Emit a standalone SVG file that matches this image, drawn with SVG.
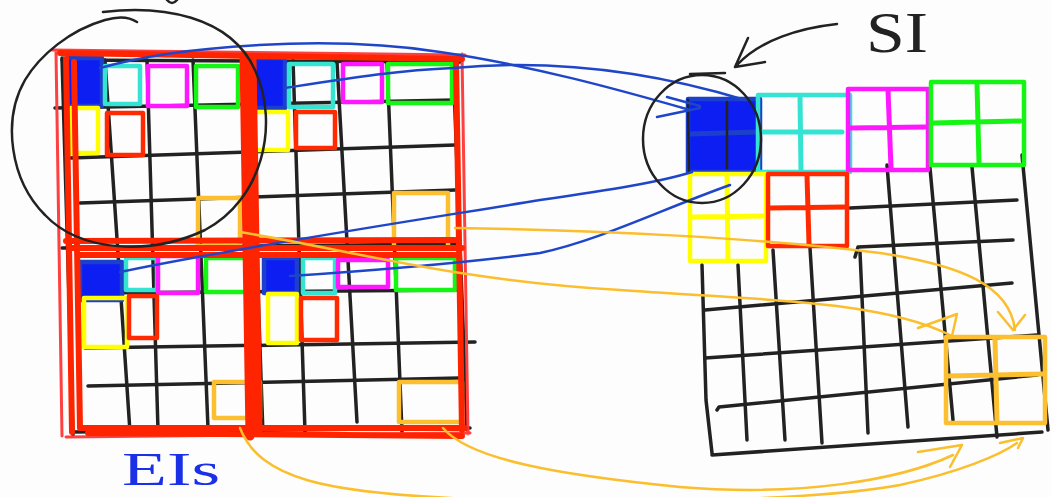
<svg xmlns="http://www.w3.org/2000/svg" width="1052" height="497" viewBox="0 0 1052 497">
<style>
.bk{fill:none;stroke:#222;stroke-width:3.5;stroke-linecap:round;stroke-linejoin:round}
.thin{fill:none;stroke:#222;stroke-width:2.5;stroke-linecap:round;stroke-linejoin:round}
.rd{fill:none;stroke:#ff2400;stroke-width:6;stroke-linecap:round}
.rdw{fill:none;stroke:#ff2400;stroke-width:9;stroke-linecap:round}
.rdl{fill:none;stroke:#ff4040;stroke-width:3;stroke-linecap:round}
.c{stroke-width:4.5;stroke-linejoin:round;stroke-linecap:round}
.x{fill:none;stroke-width:5;stroke-linecap:round}
.blue{fill:#0c1ef2;stroke:#1d40cc}
.cyan{fill:none;stroke:#35e3d3}
.mag{fill:none;stroke:#ff18ff}
.grn{fill:none;stroke:#14f514}
.yel{fill:none;stroke:#ffff00}
.red{fill:none;stroke:#ff2a00}
.org{fill:none;stroke:#fcbf30}
.bl{fill:none;stroke:#1f46c9;stroke-width:2.5;stroke-linecap:round;stroke-linejoin:round}
.or{fill:none;stroke:#fbbe2c;stroke-width:2.5;stroke-linecap:round;stroke-linejoin:round}
</style>
<rect width="1052" height="497" fill="#fdfdfd"/>

<g id="ei-grid">
<path class="bk" d="M62,58 L73,435 M105,60 L130,432 M147,60 L158,430 M193,60 L208,428 M250,58 L263,435 M293,60 L305,432 M337,62 L357,422 M387,62 L402,432 M453,60 L467,430"/>
<path class="bk" d="M62,60 L460,62 M55,108 L455,100 M70,158 L455,145 M80,203 L455,190 M62,248 L460,244 M85,293 L460,290 M85,348 L475,342 M88,386 L460,378 M72,432 L470,428"/>
</g>

<g id="ei-cells">
<rect class="c blue" x="67" y="58" width="35" height="48"/>
<rect class="c cyan" x="105" y="66" width="35" height="38"/>
<rect class="c mag" x="148" y="66" width="39" height="40"/>
<rect class="c grn" x="196" y="66" width="42" height="41"/>
<rect class="c yel" x="71" y="108" width="27" height="45"/>
<rect class="c red" x="107" y="113" width="36" height="42"/>
<rect class="c org" x="198" y="198" width="42" height="48"/>
<rect class="c blue" x="251" y="58" width="34" height="50"/>
<rect class="c cyan" x="289" y="64" width="44" height="43"/>
<rect class="c mag" x="343" y="64" width="39" height="38"/>
<rect class="c grn" x="388" y="64" width="64" height="39"/>
<rect class="c yel" x="254" y="112" width="34" height="38"/>
<rect class="c red" x="296" y="112" width="39" height="36"/>
<rect class="c org" x="394" y="193" width="54" height="55"/>
<rect class="c blue" x="80" y="262" width="42" height="38"/>
<rect class="c cyan" x="126" y="258" width="31" height="32"/>
<rect class="c mag" x="158" y="256" width="40" height="37"/>
<rect class="c grn" x="206" y="258" width="51" height="34"/>
<rect class="c yel" x="84" y="298" width="43" height="49"/>
<rect class="c red" x="129" y="296" width="28" height="42"/>
<rect class="c org" x="214" y="382" width="46" height="36"/>
<rect class="c blue" x="264" y="258" width="33" height="35"/>
<rect class="c cyan" x="303" y="258" width="32" height="35"/>
<rect class="c mag" x="338" y="260" width="50" height="27"/>
<rect class="c grn" x="396" y="258" width="59" height="32"/>
<rect class="c yel" x="268" y="294" width="29" height="49"/>
<rect class="c red" x="301" y="298" width="36" height="42"/>
<rect class="c org" x="399" y="382" width="63" height="40"/>
</g>

<g id="ei-outline">
<path class="rdl" d="M52,50 L465,55 M56,52 L62,436 M462,54 L468,434 M66,437 L470,433"/>
<path class="rd" d="M60,53 L462,59 M66,56 L72,432 M74,62 L80,428 M456,60 L462,430 M80,428 L465,428 M88,433 L462,436"/>
<path class="rdw" d="M244,56 L250,436 M252,58 L258,432"/>
<path class="rd" d="M66,241 L455,240 M70,248 L462,248 M80,255 L455,255"/>
</g>

<g id="si-grid">
<path class="bk" d="M702,265 L706,400 L712,453 M738,265 L747,440 M773,250 L785,440 M810,248 L822,443 M860,252 L868,433 M887,165 L908,427 M930,168 L953,420 M972,167 L997,437 M1022,155 L1048,430"/>
<path class="bk" d="M850,208 L1017,200 M855,257 L858,247 L1013,240 M705,310 L1012,283 M705,358 L1037,335 M717,410 L719,407 L1037,375 M712,455 L1042,432"/>
</g>

<g id="si-cells">
<rect class="c blue" x="688" y="99" width="72" height="73"/>
<path class="x" stroke="#1d40cc" d="M690,134 L758,132"/>
<path class="thin" d="M688,100 L689,172 M727,102 L727,168"/>
<rect class="c cyan" x="758" y="95" width="92" height="77"/>
<path class="x" stroke="#35e3d3" d="M800,96 L801,172 M760,132 L842,132"/>
<rect class="c mag" x="848" y="89" width="80" height="81"/>
<path class="x" stroke="#ff18ff" d="M888,90 L891,168 M850,128 L925,127"/>
<rect class="c grn" x="931" y="82" width="93" height="83"/>
<path class="x" stroke="#14f514" d="M977,84 L979,163 M933,123 L1020,121"/>
<rect class="c yel" x="690" y="174" width="76" height="87"/>
<path class="x" stroke="#ffff00" d="M727,176 L728,258 M692,217 L764,216"/>
<rect class="c red" x="768" y="174" width="79" height="72"/>
<path class="x" stroke="#ff2a00" d="M807,176 L809,244 M770,208 L845,207"/>
<rect class="c org" x="946" y="337" width="99" height="86"/>
<path class="x" stroke="#fcbf30" d="M995,339 L997,421 M948,376 L1043,374"/>
</g>

<g id="connectors">
<path class="bl" d="M100,68 C180,45 330,35 440,52 C530,65 620,90 690,110"/>
<path class="bl" d="M285,88 C350,78 400,70 453,68 C540,60 640,68 745,100"/>
<path class="bl" d="M120,272 C250,245 450,215 540,200 C610,190 660,182 692,172"/>
<path class="bl" d="M290,276 C380,270 470,262 540,253 C600,240 660,210 730,185"/>
<path class="bl" d="M667,97 L700,106 M657,117 L700,108"/>
<path class="or" d="M240,232 C350,250 450,280 620,290 C760,300 880,300 950,335"/>
<path class="or" d="M918,328 L957,314 L952,336"/>
<path class="or" d="M455,228 C600,230 760,238 880,253 C960,265 1010,285 1015,330"/>
<path class="or" d="M998,312 L1013,330 L1025,315"/>
<path class="or" d="M240,428 C260,480 330,492 450,498 C600,503 800,503 900,485 C960,472 1000,455 1017,443"/>
<path class="or" d="M1000,443 L1023,438 L1018,448"/>
<path class="or" d="M443,428 C470,460 560,475 680,487 C800,497 900,480 953,455"/>
<path class="or" d="M918,452 L962,445 L950,467"/>
</g>

<g id="annotations">
<path class="thin" d="M103,12 C160,5 230,15 255,70 C280,125 262,200 205,230 C150,256 80,252 45,215 C10,180 2,120 25,80 C40,55 70,30 105,20 Q125,14 137,22"/>
<path class="thin" d="M167,0 Q172,6 177,0"/>
<ellipse class="thin" cx="702" cy="139" rx="59" ry="64"/>
<path class="thin" d="M690,74 L725,73"/>
<path class="thin" d="M837,24 C800,28 760,40 737,65 M748,38 L735,67 L765,62"/>
</g>

<g id="labels">
<text x="866" y="52" font-family="Liberation Serif, serif" font-size="58" fill="#222" textLength="62" lengthAdjust="spacingAndGlyphs">SI</text>
<text x="122" y="485" font-family="Liberation Serif, serif" font-size="46" fill="#1a30e6" textLength="98" lengthAdjust="spacingAndGlyphs">EIs</text>
</g>
</svg>
